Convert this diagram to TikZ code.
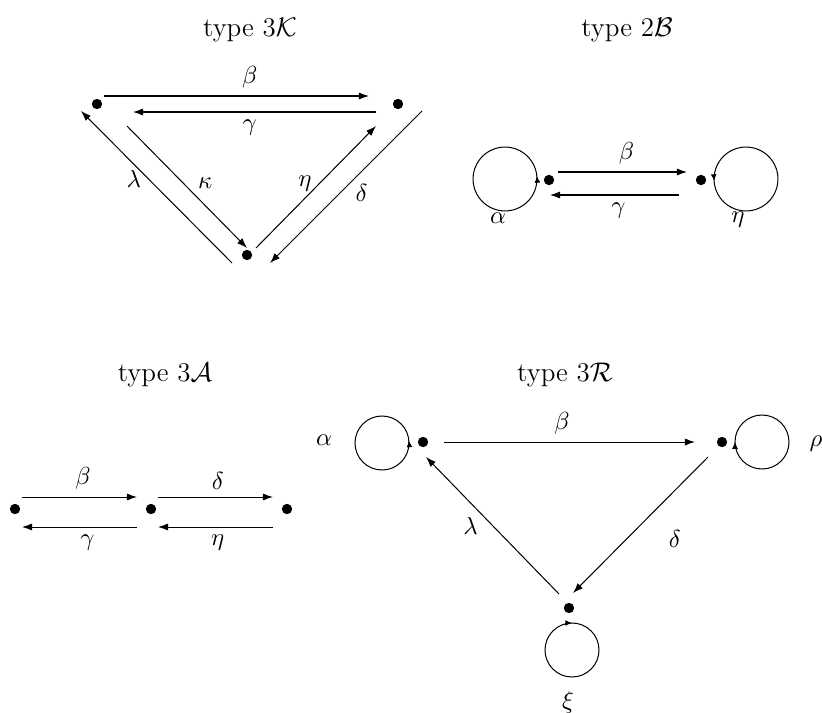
\documentclass[tikz,border=0pt]{standalone}
\usepackage{amsmath, amssymb}
\usepackage{tikz}
\usetikzlibrary{arrows.meta, positioning, calc, decorations.markings}

\tikzset{
  vert/.style={circle, fill, inner sep=0pt, minimum size=4.6pt},
  grouptitle/.style={font=\large, anchor=base},
  arr/.style={-{Latex[length=4.5pt, width=3.2pt]}},
  loopfwd/.style={postaction={decorate}, decoration={markings,
      mark=at position #1 with {\arrow{Latex[length=3pt, width=2.6pt]}}}},
  loopback/.style={postaction={decorate}, decoration={markings,
      mark=at position #1 with {\arrowreversed{Latex[length=3pt, width=2.6pt]}}}},
}

\begin{document}
\begin{tikzpicture}[x=0.4444pt, y=-0.4444pt, font=\fontsize{11pt}{13pt}\selectfont, line width=0.45pt]
    \useasboundingbox (0,0) rectangle (822,712);

    \node[grouptitle] (tK) at (250,36) {type $3\mathcal{K}$};
    \node[vert] (k1) at (97,104) {};
    \node[vert] (k2) at (398,104) {};
    \node[vert] (k3) at (247,255) {};
    \draw[arr] ($(k1)+(7,-8)$) -- node[above, pos=0.55] {$\beta$} ($(k2)+(-29,-8)$);
    \draw[arr] ($(k2)+(-22,8)$) -- node[below, pos=0.52] {$\gamma$} ($(k1)+(36,8)$);
    \draw[arr] ($(k3)+(-15,8)$) -- node[left, pos=0.55] {$\lambda$} ($(k1)+(-16,7)$);
    \draw[arr] ($(k1)+(30,22)$) -- node[right=3pt, pos=0.47] {$\kappa$} ($(k3)+(0,-7)$);
    \draw[arr] ($(k3)+(9,-7)$) -- node[left, pos=0.53] {$\eta$} ($(k2)+(-22,22)$);
    \draw[arr] ($(k2)+(24,7)$) -- node[right=3.4pt, pos=0.54] {$\delta$} ($(k3)+(23,8)$);

    \node[grouptitle] (tB) at (627,36) {type $2\mathcal{B}$};
    \node[vert] (b1) at (549,180) {};
    \node[vert] (b2) at (701,180) {};
    \draw[arr] ($(b1)+(9,-8)$) -- node[above, pos=0.53] {$\beta$} ($(b2)+(-14,-8)$);
    \draw[arr] ($(b2)+(-22,15)$) -- node[below, pos=0.47] {$\gamma$} ($(b1)+(1,15)$);
    \draw[loopfwd=0.015] ($(b1)+(-44,-1)$) circle (14.2pt);
    \draw[loopfwd=0.51] ($(b2)+(45,-1)$) circle (14.2pt);
    \node (bA) at ($(b1)+(-51,38)$) {$\alpha$};
    \node (bE) at ($(b2)+(37,40)$) {$\eta$};

    \node[grouptitle] (tA) at (165,381) {type $3\mathcal{A}$};
    \node[vert] (a1) at (15,509) {};
    \node[vert] (a2) at (151,509) {};
    \node[vert] (a3) at (287,509) {};
    \draw[arr] ($(a1)+(7,-12)$) -- node[above, pos=0.53] {$\beta$} ($(a2)+(-14,-12)$);
    \draw[arr] ($(a2)+(7,-12)$) -- node[above, pos=0.52] {$\delta$} ($(a3)+(-14,-12)$);
    \draw[arr] ($(a2)+(-14,18)$) -- node[below, pos=0.43] {$\gamma$} ($(a1)+(7,18)$);
    \draw[arr] ($(a3)+(-14,18)$) -- node[below, pos=0.48] {$\eta$} ($(a2)+(7,18)$);

    \node[grouptitle] (tR) at (565,381) {type $3\mathcal{R}$};
    \node[vert] (r1) at (423,442) {};
    \node[vert] (r2) at (722,442) {};
    \node[vert] (r3) at (569,608) {};
    \draw[arr] ($(r1)+(21,0)$) -- node[above, pos=0.47] {$\beta$} ($(r2)+(-27,0)$);
    \draw[arr] ($(r3)+(-10,-14)$) -- node[left=3pt, pos=0.5] {$\lambda$} ($(r1)+(3,15)$);
    \draw[arr] ($(r2)+(-14,15)$) -- node[right=15pt, pos=0.6] {$\delta$} ($(r3)+(4,-15)$);
    \draw[loopfwd=0.015] ($(r1)+(-41,1)$) circle (12pt);
    \draw[loopback=0.5] ($(r2)+(40,0)$) circle (12pt);
    \draw[loopback=0.25] ($(r3)+(3,42)$) circle (12pt);
    \node (rA) at ($(r1)+(-99,-2)$) {$\alpha$};
    \node (rP) at ($(r2)+(94,2)$) {$\rho$};
    \node (rX) at ($(r3)+(-1,94)$) {$\xi$};
\end{tikzpicture}
\end{document}
